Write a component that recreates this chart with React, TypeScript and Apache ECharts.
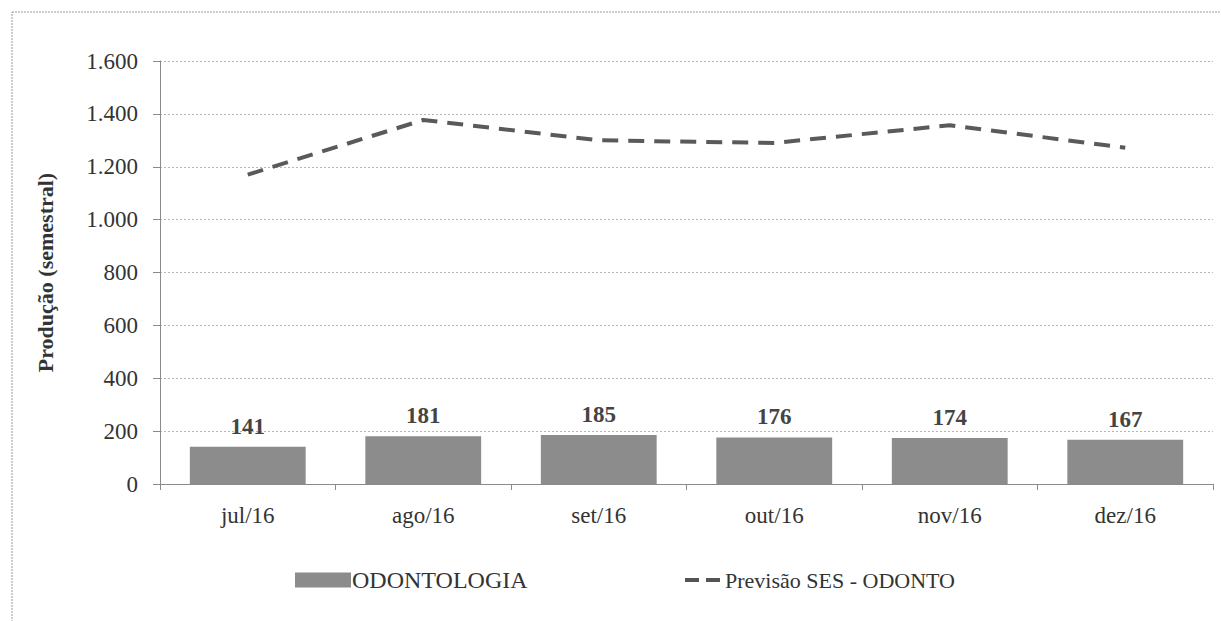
import React, { useEffect, useRef } from "react";
import * as echarts from "echarts";

const categories = ["jul/16", "ago/16", "set/16", "out/16", "nov/16", "dez/16"];
const odontologia = [141, 181, 185, 176, 174, 167];
const previsao = [1170, 1377, 1300, 1290, 1357, 1272];
const yTicks = [0, 200, 400, 600, 800, 1000, 1200, 1400, 1600];

const FONT = "Liberation Serif";

function fmt(v: number): string {
  const s = String(Math.round(v));
  return s.replace(/\B(?=(\d{3})+(?!\d))/g, ".");
}

export default function App() {
  const ref = useRef<HTMLDivElement>(null);
  useEffect(() => {
    document.body.style.margin = "0";
    if (!ref.current) return;
    const chart = echarts.init(ref.current, undefined, { renderer: "svg" });
    chart.setOption({
      animation: false,
      backgroundColor: "#ffffff",
      textStyle: { fontFamily: FONT },
      grid: { left: 160, right: 8, top: 61, bottom: 137, containLabel: false },
      xAxis: {
        type: "category",
        data: categories,
        axisLine: { show: true, lineStyle: { color: "#8a8a8a", width: 1 } },
        axisTick: { show: true, alignWithLabel: false, length: 6, lineStyle: { color: "#8a8a8a" } },
        axisLabel: { color: "#333", fontSize: 23, fontFamily: FONT, margin: 20 },
      },
      yAxis: {
        type: "value",
        min: yTicks[0],
        max: yTicks[yTicks.length - 1],
        interval: 200,
        name: "Produção (semestral)",
        nameLocation: "middle",
        nameGap: 104,
        nameRotate: 90,
        nameTextStyle: { color: "#333", fontSize: 22, fontWeight: "bold", fontFamily: FONT },
        axisLine: { show: true, lineStyle: { color: "#8a8a8a", width: 1 } },
        axisTick: { show: true, length: 7, lineStyle: { color: "#8a8a8a" } },
        axisLabel: { color: "#333", fontSize: 23, fontFamily: FONT, margin: 22, formatter: (v: number) => fmt(v) },
        splitLine: { show: true, lineStyle: { color: "#b5b5b5", type: [2, 2], width: 1 } },
      },
      legend: [
        {
          left: 290,
          top: 563,
          data: [{ name: "ODONTOLOGIA", icon: "rect" }],
          itemWidth: 56,
          itemHeight: 15,
          itemGap: 0,
          textStyle: { color: "#333", fontSize: 24, fontFamily: FONT, padding: [2, 0, 0, -4] },
        },
        {
          left: 680,
          top: 564,
          data: [{ name: "Previsão SES - ODONTO", icon: "path://M0,0H14V4H0Z M21,0H35V4H21Z", itemStyle: { color: "#555" } }],
          itemWidth: 35,
          itemHeight: 4,
          textStyle: { color: "#333", fontSize: 22, fontFamily: FONT, padding: [2, 0, 0, 0] },
        },
      ],
      series: [
        {
          name: "ODONTOLOGIA",
          type: "bar",
          data: odontologia,
          barWidth: "66%",
          itemStyle: { color: "#8c8c8c" },
          label: {
            show: true,
            position: "top",
            distance: 9,
            color: "#444",
            fontSize: 23,
            fontWeight: "bold",
            fontFamily: FONT,
          },
        },
        {
          name: "Previsão SES - ODONTO",
          type: "line",
          data: previsao,
          symbol: "none",
          lineStyle: { color: "#5a5a5a", width: 4, type: [16, 10] },
          itemStyle: { color: "#5a5a5a" },
        },
      ],
      graphic: [
        {
          type: "rect",
          shape: { x: 12, y: 12, width: 1215, height: 620 },
          style: { fill: "none", stroke: "#9a9a9a", lineWidth: 1, lineDash: [2, 1] },
          silent: true,
        },
      ],
    });
    return () => chart.dispose();
  }, []);
  return <div ref={ref} style={{ width: 1221, height: 621 }} />;
}
